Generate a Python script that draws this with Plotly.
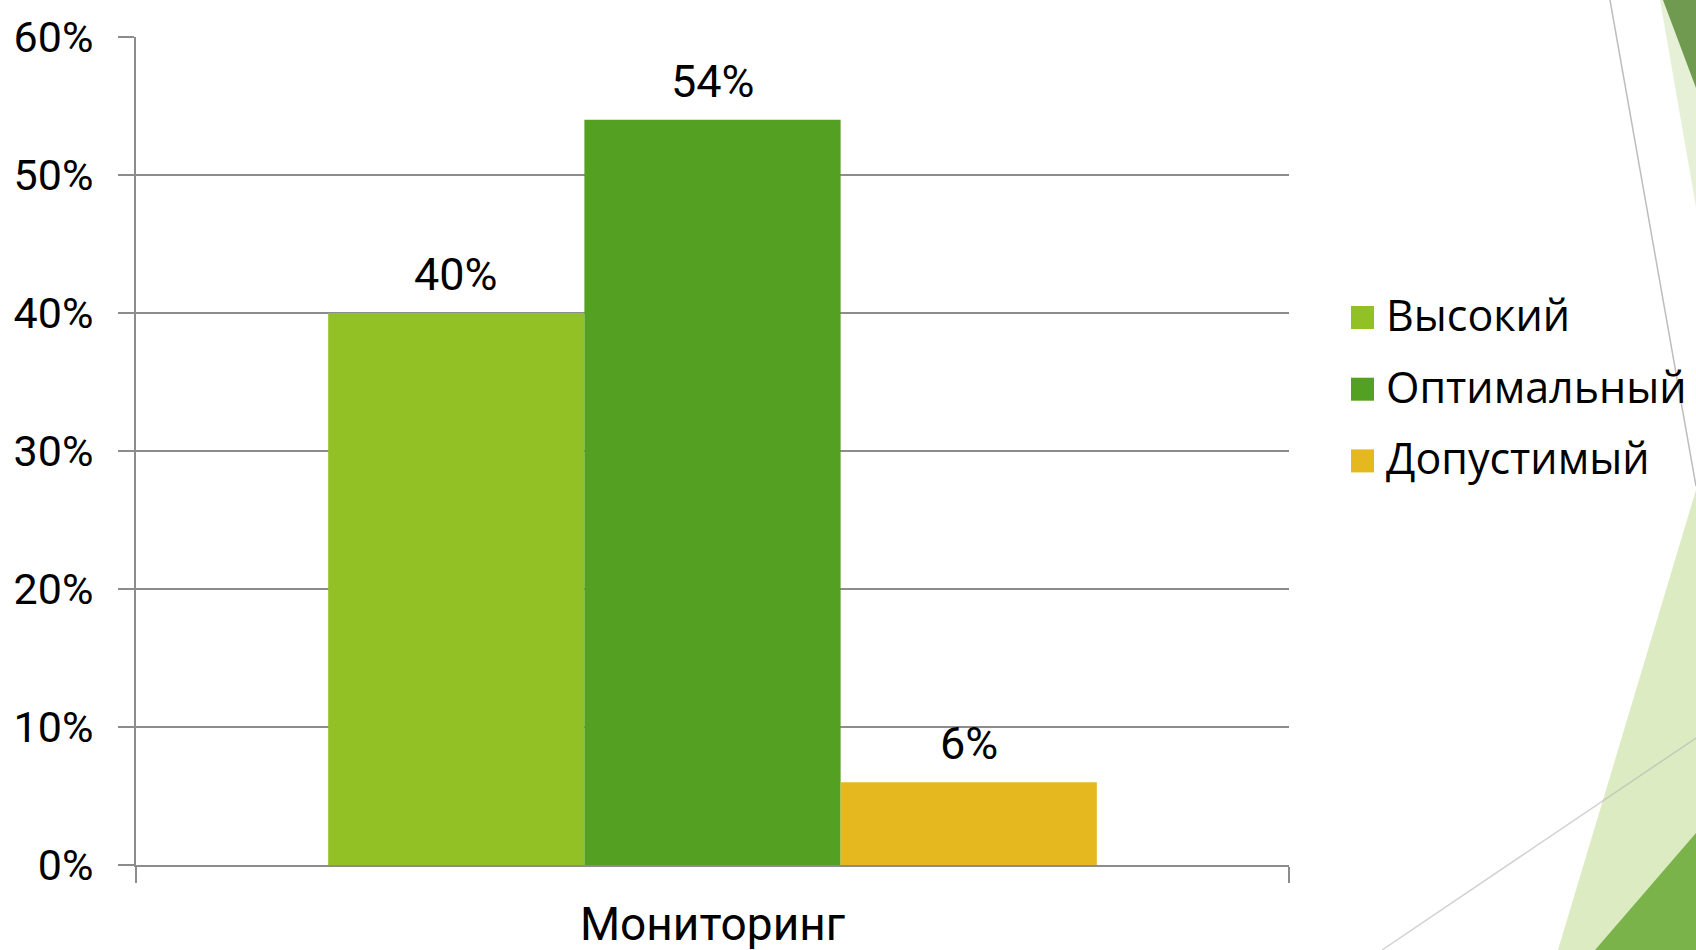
import plotly.graph_objects as go

# ---- data ----
categories = ["Мониторинг"]
series_names = ["Высокий", "Оптимальный", "Допустимый"]
series_values = [[0.40], [0.54], [0.06]]
series_colors = ["#92C125", "#54A022", "#E4B81E"]
y_tick_values = [0, 0.1, 0.2, 0.3, 0.4, 0.5, 0.6]
y_tick_labels = ["0%", "10%", "20%", "30%", "40%", "50%", "60%"]

W, H = 1696, 950
L, R, T, B = 136, 407, 37, 85
PW, PH = W - L - R, H - T - B
BARGAP = 1 / 3

AXIS_FONT = dict(family="Roboto, Liberation Sans, sans-serif", size=43, color="#000000")
GRID = "#8C8C8C"

fig = go.Figure()
for name, vals, col in zip(series_names, series_values, series_colors):
    fig.add_trace(go.Bar(x=categories, y=vals, name=name, marker_color=col,
                         marker_line_width=0, showlegend=False))

# data labels through the axis scales
n = len(series_names)
bw = (1 - BARGAP) / n
annotations = []
for i, (vals, name) in enumerate(zip(series_values, series_names)):
    for ci, v in enumerate(vals):
        annotations.append(dict(
            x=ci + (i - (n - 1) / 2) * bw, y=v, xref="x", yref="y",
            text=f"{round(v * 100)}%", showarrow=False, yanchor="bottom",
            yshift=10, font=dict(AXIS_FONT, size=45)))


def px(xp):
    return (xp - L) / PW


def py(yp):
    return (H - T - B - (yp - T)) / PH


def poly(points, color):
    d = "M " + " L ".join(f"{px(a):.5f},{py(b):.5f}" for a, b in points) + " Z"
    return dict(type="path", xref="paper", yref="paper", path=d,
                fillcolor=color, line=dict(width=0), layer="below")


shapes = [
    poly([(1660, 0), (1696, 0), (1696, 207)], "#E6F0D6"),
    poly([(1663, 0), (1696, 0), (1696, 88)], "#6F9A4F"),
    poly([(1696, 490), (1696, 950), (1558, 950)], "#DDEBC3"),
    poly([(1696, 833), (1696, 950), (1595, 950)], "#7AB34A"),
    dict(type="line", xref="paper", yref="paper", x0=px(1610), y0=py(0), x1=px(1696), y1=py(486),
         line=dict(color="#BDBDBD", width=1.5), layer="below"),
    dict(type="line", xref="paper", yref="paper", x0=px(1382), y0=py(950), x1=px(1696), y1=py(738),
         line=dict(color="rgba(180,180,180,0.6)", width=1.5), layer="below"),
]

# manual legend (large square keys)
LEG_FONT = dict(family="Open Sans, DejaVu Sans, sans-serif", size=43, color="#000000")
for i, (name, col) in enumerate(zip(series_names, series_colors)):
    cy = 317.5 + i * 71.7
    shapes.append(dict(type="rect", xref="paper", yref="paper",
                       x0=px(1351), x1=px(1374), y0=py(cy - 11.5), y1=py(cy + 11.5),
                       fillcolor=col, line=dict(width=0)))
    annotations.append(dict(x=px(1384), y=py(cy - 3), xref="paper", yref="paper",
                            text=name, showarrow=False, xanchor="left", yanchor="middle",
                            font=LEG_FONT))

fig.update_layout(
    width=W, height=H,
    margin=dict(l=L, r=R, t=T, b=B, pad=0),
    paper_bgcolor="white", plot_bgcolor="rgba(0,0,0,0)",
    barmode="group", bargap=BARGAP, bargroupgap=0,
    showlegend=False,
    shapes=shapes, annotations=annotations,
    font=AXIS_FONT,
)
fig.update_xaxes(range=[-0.5, 0.5], showline=True, linecolor=GRID, linewidth=2,
                 ticks="outside", tickson="boundaries", ticklen=16, tickwidth=2, tickcolor=GRID,
                 showgrid=False, tickfont=dict(AXIS_FONT, size=46), ticklabelstandoff=18,
                 automargin=False)
fig.update_yaxes(range=[0, 0.6], tickvals=y_tick_values, ticktext=y_tick_labels,
                 showline=True, linecolor=GRID, linewidth=2,
                 ticks="outside", ticklen=16, tickwidth=2, tickcolor=GRID,
                 showgrid=True, gridcolor=GRID, gridwidth=2, zeroline=False,
                 tickfont=AXIS_FONT, ticklabelstandoff=16, automargin=False)

fig.write_html("out.html", config={"displayModeBar": False},
               post_script="document.body.style.margin='0';document.body.style.overflow='hidden';")
